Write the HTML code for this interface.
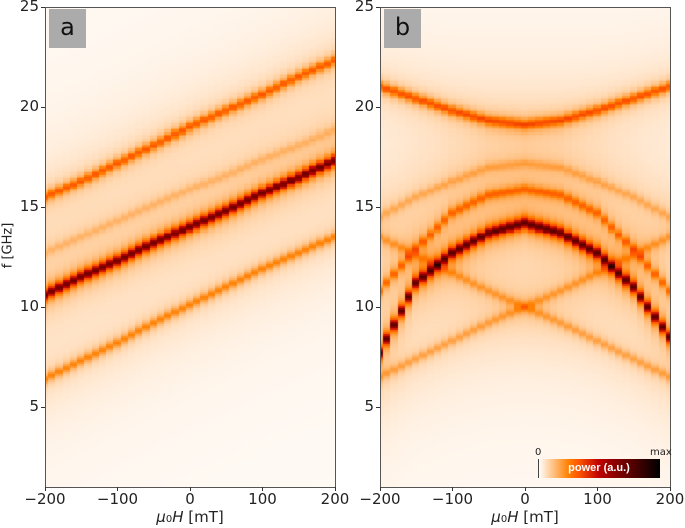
<!DOCTYPE html>
<html><head><meta charset="utf-8">
<style>
body{margin:0;background:#fff;width:685px;height:528px;overflow:hidden;position:relative;font-family:"DejaVu Sans","Liberation Sans",sans-serif;}
.abs{position:absolute;}
.tl{position:absolute;font-size:15px;color:#222;line-height:15px;}
canvas{position:absolute;}
.frame{position:absolute;border:1px solid #555;box-sizing:border-box;}
.panel-label{position:absolute;background:#ababab;width:37px;height:39px;font-size:24px;line-height:37px;text-align:center;color:#111;}
</style></head>
<body>
<div id="root"></div>
<script>
// ---- data ----
const fields = [-200,-150,-100,-50,0,50,100,150,200];
// panel a modes (frequency in GHz at each field)
const modeA1 = [15.5,16.3,17.2,18.1,19.0,19.8,20.6,21.5,22.3];
const modeA2 = [12.7,13.5,14.3,15.1,15.9,16.6,17.4,18.1,18.85];
const modeA3 = [10.6,11.5,12.3,13.2,14.0,14.8,15.7,16.5,17.35];
const modeA4 = [6.4,7.3,8.2,9.2,10.1,11.0,11.9,12.7,13.5];
const ampsA = [0.28,0.08,0.65,0.2];
// panel b modes
const modeB1 = [21.0,20.4,19.8,19.3,19.1,19.3,19.8,20.4,21.0];
const modeB2 = [7.7,11.2,12.7,13.7,14.2,13.7,12.7,11.0,8.5];
const modeB3 = [10.8,12.9,14.7,15.6,15.9,15.6,14.7,12.9,10.8];
const modeB4 = [14.5,15.5,16.3,17.0,17.2,17.0,16.3,15.5,14.5];
const modeB5 = [13.5,12.6,11.7,10.8,10.0,9.2,8.3,7.4,6.5];
const modeB6 = [6.5,7.4,8.3,9.2,10.0,10.8,11.7,12.6,13.5];
const ampsB = [0.3,0.68,0.22,0.1,0.13,0.13];
const xTicks = [-200,-100,0,100,200];
const yTicks = [5,10,15,20,25];

// ---- geometry ----
const Y0=7, Y1=487, FMIN=1, FMAX=25;
const yScale = f => Y1 - (f-FMIN)/(FMAX-FMIN)*(Y1-Y0);
const root = document.getElementById('root');

function heat(v){ // gist_heat_r
  const x = 1 - Math.max(0,Math.min(1,v));
  const r=Math.min(1,1.5*x), g=Math.max(0,Math.min(1,2*x-1)), b=Math.max(0,Math.min(1,4*x-3));
  return 'rgb('+Math.round(r*255)+','+Math.round(g*255)+','+Math.round(b*255)+')';
}
function interp(arr,h){
  const t=(h-fields[0])/(fields[1]-fields[0]);
  const i=Math.max(0,Math.min(fields.length-2,Math.floor(t)));
  const u=t-i; return arr[i]*(1-u)+arr[i+1]*u;
}
function drawPanel(id,X0,X1,modes,amps,label){
  const xScale = h => X0 + (h+200)/400*(X1-X0);
  const cv=document.createElement('canvas');
  
  
  cv.width=X1-X0; cv.height=Y1-Y0;
  cv.style.left=X0+'px'; cv.style.top=Y0+'px';
  root.appendChild(cv);
  const ctx=cv.getContext('2d');
  const w=0.22, W=2.5;
  for(let h=-200;h<=200;h+=10){
    const xa=xScale(h-5)-X0, xb=xScale(h+5)-X0;
    for(let f=FMIN;f<FMAX;f+=0.1){
      let v=0.008;
      modes.forEach((m,k)=>{
        const fm=interp(m,h), d=f-fm;
        v+=amps[k]*w*w/(d*d+w*w);
        v+=0.025*W*W/(d*d+W*W);
      });
      ctx.fillStyle=heat(v);
      const ya=yScale(f+0.1)-Y0, yb=yScale(f)-Y0;
      ctx.fillRect(Math.floor(xa),Math.floor(ya),Math.ceil(xb-xa)+1,Math.ceil(yb-ya)+1);
    }
  }
  const fr=document.createElement('div');
  fr.className='frame';
  
  
  fr.style.cssText='left:'+X0+'px;top:'+Y0+'px;width:'+(X1-X0+1)+'px;height:'+(Y1-Y0+1)+'px;';
  root.appendChild(fr);
  xTicks.forEach(t=>{
    const x=xScale(t);
    const tk=document.createElement('div'); tk.className='abs';
    
    
    tk.style.cssText='left:'+(x-0.5)+'px;top:'+Y1+'px;width:1px;height:4px;background:#333;';
    root.appendChild(tk);
    const lb=document.createElement('div'); lb.className='tl';
    
    
    lb.textContent=(t<0?'\u2212'+(-t):t);
    lb.style.cssText+='left:'+(x-30)+'px;width:60px;text-align:center;top:492px;';
    root.appendChild(lb);
  });
  yTicks.forEach(t=>{
    const y=yScale(t);
    const tk=document.createElement('div'); tk.className='abs';
    
    
    tk.style.cssText='left:'+(X0-4)+'px;top:'+(y-0.5)+'px;width:4px;height:1px;background:#333;';
    root.appendChild(tk);
    const lb=document.createElement('div'); lb.className='tl';
    
    
    lb.textContent=t;
    lb.style.cssText+='left:'+(X0-46)+'px;width:40px;text-align:right;top:'+(y-8)+'px;';
    root.appendChild(lb);
  });
  const pl=document.createElement('div'); pl.className='panel-label';
  
  
  pl.textContent=label;
  pl.style.left=(X0+4)+'px'; pl.style.top='9px';
  root.appendChild(pl);
  const xl=document.createElement('div'); xl.className='tl';
  
  
  xl.innerHTML='<i>\u03bc</i><span style="font-size:10px">0</span><i>H</i> [mT]';
  xl.style.cssText+='left:'+((X0+X1)/2-60)+'px;width:120px;text-align:center;top:510px;';
  root.appendChild(xl);
}
drawPanel('panel-a',45,335,[modeA1,modeA2,modeA3,modeA4],ampsA,'a');
drawPanel('panel-b',380,670,[modeB1,modeB2,modeB3,modeB4,modeB5,modeB6],ampsB,'b');

// y axis title
const yt=document.createElement('div'); yt.className='tl';


yt.textContent='f [GHz]';
yt.style.cssText+='left:-22px;top:238px;width:60px;text-align:center;transform:rotate(-90deg);font-size:13px;';
root.appendChild(yt);

// colorbar
const cb=document.createElement('canvas');


cb.width=122; cb.height=19; cb.style.left='538px'; cb.style.top='459px';
root.appendChild(cb);
const cctx=cb.getContext('2d');
for(let i=0;i<122;i++){cctx.fillStyle=heat(i/121);cctx.fillRect(i,0,1,19);}
const cbl=document.createElement('div'); cbl.className='abs';


cbl.textContent='power (a.u.)';
cbl.style.cssText='left:538px;width:122px;top:461px;text-align:center;color:#fff;font-weight:bold;font-size:11px;line-height:15px;font-family:"Liberation Sans",sans-serif;';
root.appendChild(cbl);
const cbt=document.createElement('div'); cbt.className='abs';


cbt.style.cssText='left:538px;top:459px;width:1px;height:19px;background:#444;';
root.appendChild(cbt);
const c0=document.createElement('div'); c0.className='abs';


c0.textContent='0';
c0.style.cssText='left:535px;top:447px;font-size:10px;color:#222;';
root.appendChild(c0);
const c1=document.createElement('div'); c1.className='abs';


c1.textContent='max';
c1.style.cssText='left:650px;top:447px;font-size:10px;color:#222;';
root.appendChild(c1);
</script>
</body></html>
